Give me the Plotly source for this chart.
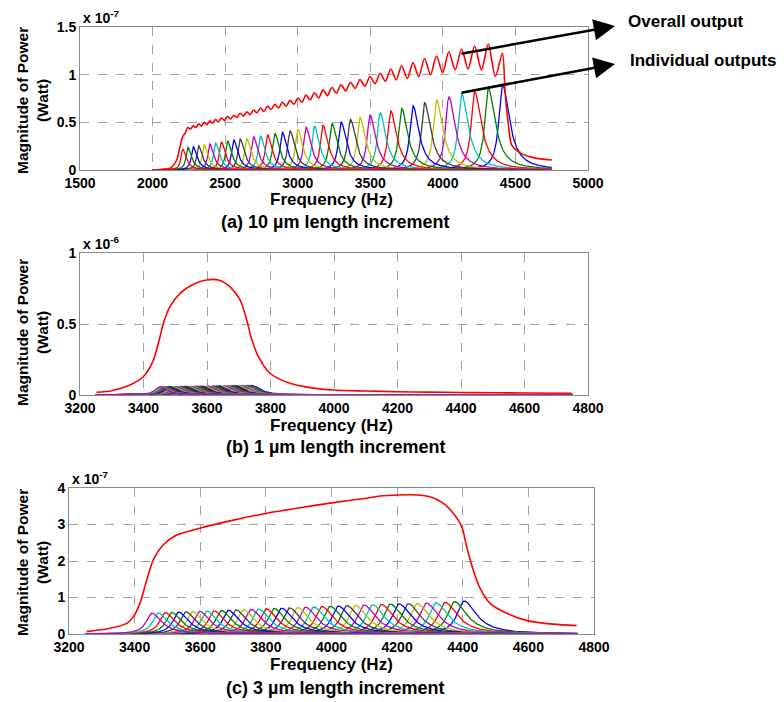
import numpy as np
import plotly.graph_objects as go

W, H = 784, 702

# ---------------- DATA ----------------
# MATLAB default colour order, index 0 = highest-frequency (shortest) beam
color_cycle = ["#0000FF", "#008000", "#FF0000", "#00BFBF", "#BF00BF", "#BFBF00", "#404040"]

# Panel (a): 10 um length increment  (power in units of 1e-7 W)
a_centers = [4410, 4313, 4219, 4129, 4041, 3956, 3874, 3794, 3716, 3641, 3568, 3498, 3429,
             3363, 3298, 3235, 3174, 3115, 3057, 3001, 2947, 2894, 2842, 2792, 2743, 2695,
             2649, 2603, 2559, 2516, 2474, 2433, 2394, 2355, 2317, 2280, 2243, 2208]
a_heights = [0.90, 0.857, 0.82, 0.80, 0.766, 0.734, 0.706, 0.675, 0.647, 0.62, 0.60, 0.577,
             0.553, 0.53, 0.507, 0.49, 0.47, 0.46, 0.448, 0.427, 0.412, 0.395, 0.385, 0.367,
             0.357, 0.35, 0.33, 0.325, 0.315, 0.304, 0.294, 0.287, 0.273, 0.266, 0.255, 0.245,
             0.238, 0.217]
a_overall_peaks = [1.225, 1.32, 1.30, 1.27, 1.24, 1.196, 1.17, 1.126, 1.094, 1.06, 1.015, 0.98,
                   0.95, 0.92, 0.895, 0.865, 0.84, 0.81, 0.785, 0.755, 0.73, 0.71, 0.69, 0.67,
                   0.65, 0.63, 0.61, 0.595, 0.575, 0.56, 0.545, 0.53, 0.515, 0.50, 0.485, 0.465,
                   0.445, 0.35]
a_overall_troughs = [0.98, 1.05, 1.06, 1.05, 1.02, 1.0, 0.98, 0.96, 0.945, 0.93, 0.905, 0.88,
                     0.855, 0.83, 0.805, 0.78, 0.755, 0.735, 0.71, 0.69, 0.67, 0.65, 0.635,
                     0.615, 0.60, 0.58, 0.565, 0.55, 0.535, 0.52, 0.505, 0.49, 0.475, 0.46,
                     0.445, 0.43, 0.39]
a_pre_f = [2000, 2060, 2120, 2166, 2189]
a_pre_v = [0.0, 0.005, 0.018, 0.105, 0.245]
a_post_f = [4429, 4452, 4475, 4532, 4622, 4751]
a_post_v = [0.82, 0.47, 0.26, 0.18, 0.13, 0.105]
a_q = (75, 38)  # below / above resonance sharpness

# Panel (b): 1 um length increment  (power in units of 1e-6 W)
b_centers = [3740, 3732, 3724, 3716, 3708, 3700, 3692, 3684, 3677, 3669, 3661, 3654, 3646, 3638,
             3631, 3623, 3616, 3608, 3601, 3593, 3586, 3578, 3571, 3564, 3556, 3549, 3542, 3535,
             3527, 3520, 3513, 3506, 3499, 3492, 3485, 3478, 3471, 3464, 3457, 3450]
b_heights = [0.068, 0.068, 0.068, 0.067, 0.067, 0.067, 0.066, 0.066, 0.066, 0.065, 0.065, 0.065,
             0.065, 0.064, 0.064, 0.064, 0.063, 0.063, 0.063, 0.063, 0.062, 0.062, 0.062, 0.062,
             0.061, 0.061, 0.061, 0.061, 0.060, 0.060, 0.060, 0.060, 0.059, 0.059, 0.059, 0.059,
             0.058, 0.058, 0.058, 0.058]
b_overall_f = [3252, 3300, 3357, 3400, 3431, 3452, 3462, 3483, 3515, 3557, 3599, 3636, 3672,
               3704, 3725, 3741, 3762, 3798, 3861, 3930, 3998, 4100, 4200, 4300, 4400, 4500,
               4600, 4749]
b_overall_v = [0.019, 0.03, 0.07, 0.13, 0.246, 0.41, 0.50, 0.62, 0.716, 0.78, 0.81, 0.81, 0.763,
               0.67, 0.53, 0.39, 0.27, 0.153, 0.082, 0.05, 0.035, 0.028, 0.023, 0.02, 0.018,
               0.016, 0.014, 0.012]
b_q = (100, 60)

# Panel (c): 3 um length increment  (power in units of 1e-7 W)
c_centers = [4404, 4375, 4346, 4318, 4289, 4261, 4234, 4206, 4179, 4152, 4125, 4099, 4073, 4047,
             4021, 3996, 3971, 3946, 3921, 3897, 3872, 3848, 3825, 3801, 3778, 3755, 3732, 3709,
             3686, 3664, 3642, 3620, 3598, 3577, 3556, 3534, 3513, 3493, 3472, 3452]
c_heights = [0.900, 0.885, 0.865, 0.850, 0.845, 0.835, 0.830, 0.825, 0.820, 0.812, 0.803, 0.794,
             0.785, 0.776, 0.767, 0.759, 0.750, 0.741, 0.733, 0.724, 0.716, 0.707, 0.699, 0.691,
             0.683, 0.675, 0.667, 0.659, 0.651, 0.643, 0.636, 0.628, 0.621, 0.613, 0.606, 0.598,
             0.591, 0.584, 0.577, 0.570]
c_overall_f = [3254, 3325, 3376, 3396, 3416, 3437, 3457, 3487, 3528, 3599, 3701, 3803, 3904,
               4006, 4107, 4148, 4204, 4260, 4300, 4341, 4371, 4397, 4412, 4432, 4453, 4483,
               4534, 4600, 4676, 4747]
c_overall_v = [0.064, 0.155, 0.29, 0.47, 0.84, 1.48, 2.03, 2.44, 2.71, 2.90, 3.12, 3.31, 3.46,
               3.60, 3.72, 3.78, 3.81, 3.81, 3.76, 3.58, 3.31, 2.94, 2.39, 1.75, 1.25, 0.84,
               0.57, 0.36, 0.27, 0.23]
c_q = (85, 48)

# ---------------- helpers ----------------
def resonance(f, fc, h, q):
    r = f / fc
    qq = np.where(f < fc, q[0], q[1])
    return h / (1.0 + (qq * (r - 1.0 / r)) ** 2)

def px(x, y):
    return x / W, 1 - y / H

FONT = "Liberation Sans, Arial, sans-serif"
fig = go.Figure()

def add_panel(n, centers, heights, q, fmin, fmax, scale, ov_f, ov_v, smooth):
    xa = "x" if n == 1 else f"x{n}"
    ya = "y" if n == 1 else f"y{n}"
    f = np.linspace(fmin, fmax, 1400)
    for i, (fc, h) in enumerate(zip(centers, heights)):
        fig.add_trace(go.Scatter(x=f, y=resonance(f, fc, h, q) * scale, mode="lines",
                                 line=dict(color=color_cycle[i % 7], width=1.3),
                                 xaxis=xa, yaxis=ya, showlegend=False, hoverinfo="skip"))
    fig.add_trace(go.Scatter(x=ov_f, y=np.array(ov_v) * scale, mode="lines",
                             line=dict(color="#FF0000", width=1.6, shape="spline", smoothing=smooth),
                             xaxis=xa, yaxis=ya, showlegend=False, hoverinfo="skip"))

# overall (a): rising edge, peaks at resonances with troughs between, falling tail
asc_c = list(reversed(a_centers))
asc_p = list(reversed(a_overall_peaks))
asc_t = list(reversed(a_overall_troughs))
a_ov_f, a_ov_v = list(a_pre_f), list(a_pre_v)
for k in range(len(asc_c)):
    a_ov_f.append(asc_c[k]); a_ov_v.append(asc_p[k])
    if k < len(asc_t):
        a_ov_f.append((asc_c[k] + asc_c[k + 1]) / 2); a_ov_v.append(asc_t[k])
a_ov_f += a_post_f; a_ov_v += a_post_v

add_panel(1, a_centers, a_heights, a_q, 2000, 4750, 1e-7, a_ov_f, a_ov_v, 0.8)
add_panel(2, b_centers, b_heights, b_q, 3250, 4750, 1e-6, b_overall_f, b_overall_v, 0.8)
add_panel(3, c_centers, c_heights, c_q, 3250, 4750, 1e-7, c_overall_f, c_overall_v, 0.8)

# ---------------- axes ----------------
tickfont = dict(family=FONT, size=14, color="black", weight="bold")
def xaxis(dom, rng, dtick, anchor):
    return dict(domain=dom, range=rng, dtick=dtick, tick0=rng[0], showgrid=True,
                gridcolor="#a0a0a0", griddash="dash", gridwidth=1, zeroline=False,
                showline=True, linecolor="#8a8a8a", linewidth=1, mirror=True,
                ticks="", tickfont=tickfont, automargin=False, anchor=anchor)
def yaxis(dom, rng, vals, texts, anchor):
    return dict(domain=dom, range=rng, tickvals=vals, ticktext=texts, showgrid=True,
                gridcolor="#a0a0a0", griddash="dash", gridwidth=1, zeroline=False,
                showline=True, linecolor="#8a8a8a", linewidth=1, mirror=True,
                ticks="", tickfont=tickfont, anchor=anchor, automargin=False)

xa1 = (80 / W, 588 / W); ya1 = (1 - 170 / H, 1 - 27 / H)
xa2 = (80 / W, 588 / W); ya2 = (1 - 395 / H, 1 - 253 / H)
xa3 = (69 / W, 594 / W); ya3 = (1 - 634 / H, 1 - 488 / H)

fig.update_layout(
    width=W, height=H, margin=dict(l=0, r=0, t=0, b=0, pad=0, autoexpand=False),
    autosize=False,
    paper_bgcolor="white", plot_bgcolor="white",
    xaxis=xaxis(xa1, [1500, 5000], 500, "y"),
    yaxis=yaxis(ya1, [0, 1.5e-7], [0, 0.5e-7, 1e-7, 1.5e-7], ["0", "0.5", "1", "1.5"], "x"),
    xaxis2=xaxis(xa2, [3200, 4800], 200, "y2"),
    yaxis2=yaxis(ya2, [0, 1e-6], [0, 0.5e-6, 1e-6], ["0", "0.5", "1"], "x2"),
    xaxis3=xaxis(xa3, [3200, 4800], 200, "y3"),
    yaxis3=yaxis(ya3, [0, 4e-7], [0, 1e-7, 2e-7, 3e-7, 4e-7], ["0", "1", "2", "3", "4"], "x3"),
)

ann = []
def text(x, y, s, size, angle=0, xanchor="center", yanchor="middle"):
    X, Y = px(x, y)
    ann.append(dict(x=X, y=Y, xref="paper", yref="paper", text=s, showarrow=False,
                    textangle=angle, xanchor=xanchor, yanchor=yanchor,
                    font=dict(family=FONT, size=size, color="black", weight="bold")))

for (ylab_y, xt_y, cap_y, cap, exp_y, exp_txt, exp_x) in [
        (101, 199, 222, "(a) 10 µm length increment", 28, "x 10<sup>-7</sup>", 81),
        (333, 426, 447, "(b) 1 µm length increment", 254, "x 10<sup>-6</sup>", 81),
        (563, 664, 688, "(c) 3 µm length increment", 489, "x 10<sup>-7</sup>", 70)]:
    text(32, ylab_y, "Magnitude of Power<br>(Watt)", 15.5, angle=-90)
    text(331, xt_y, "Frequency (Hz)", 17)
    text(335, cap_y, cap, 18)
    text(exp_x, exp_y, exp_txt, 14, xanchor="left", yanchor="bottom")

text(626, 21, "Overall output", 17, xanchor="left")
text(628, 60, "Individual outputs", 17, xanchor="left")

for tip, tail in [((615, 26), (460, 54)), ((615, 64), (460, 93))]:
    X, Y = px(*tip)
    ann.append(dict(x=X, y=Y, xref="paper", yref="paper", text="", showarrow=True,
                    ax=tail[0] - tip[0], ay=tail[1] - tip[1], axref="pixel", ayref="pixel",
                    arrowhead=2, arrowsize=1.7, arrowwidth=2.5, arrowcolor="black",
                    standoff=0, startstandoff=0))

fig.update_layout(annotations=ann)
fig.write_html("out.html")
